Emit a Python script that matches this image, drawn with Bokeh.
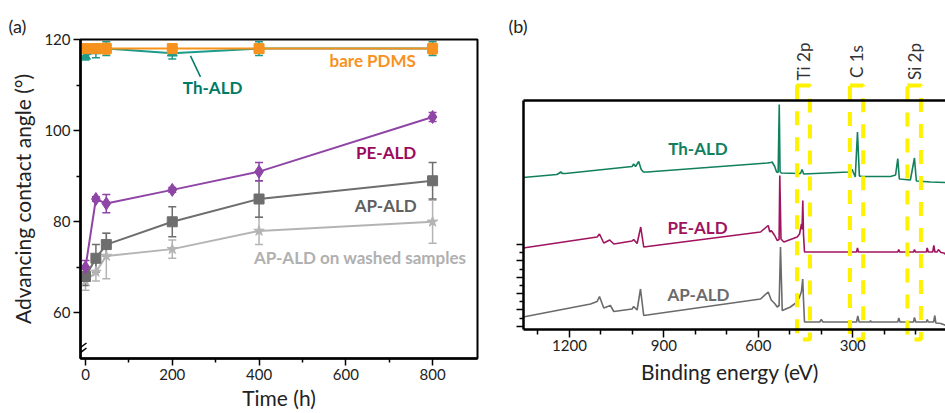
import math
from bokeh.plotting import figure
from bokeh.layouts import row
from bokeh.models import (Range1d, FixedTicker, Whisker, TeeHead, ColumnDataSource,
                          Label, LinearAxis, Arrow)
from bokeh.embed import file_html
from bokeh.resources import INLINE

FONT = "Lato"

# ---------------- panel (a) data: advancing contact angle vs time ----------------
time_h = [0, 24, 48, 200, 400, 800]
bare_pdms = [118, 118, 118, 118, 118, 118]
bare_pdms_err = [0.8, 1.0, 1.2, 1.0, 1.0, 1.2]
th_ald = [116.3, 117.5, 118, 117, 118, 118]
th_ald_err = [0.8, 1.5, 1.5, 1.3, 1.5, 1.5]
pe_ald = [70, 85, 84, 87, 91, 103]
pe_ald_err = [1.5, 0.5, 2, 0.5, 2, 1]
ap_ald = [68, 72, 75, 80, 85, 89]
ap_ald_err = [2, 3, 2.5, 3.3, 4, 4]
ap_washed = [67, 69, 72.5, 74, 78, 80]
ap_washed_err = [2, 2, 5, 2, 3, 4.7]

x_ticks_a = [0, 200, 400, 600, 800]
x_minor_a = [100, 300, 500, 700]
y_ticks_a = [60, 80, 100, 120]
y_minor_a = [70, 90, 110]

# ---------------- panel (b) data: XPS survey spectra (offset, a.u.) ----------------
th_be = [1347, 1240, 1232, 1228, 1222, 1213, 1001, 996, 990, 980, 972, 965, 953, 572, 560,
         556, 548, 542, 537, 533.5, 531, 527, 466, 461, 456, 313, 302, 292, 285, 279, 270,
         180, 164, 157, 152, 117, 104, 98, 53, 5]
th_int = [152, 155, 156.5, 157.5, 156, 156, 163, 165.5, 163, 168, 160, 157.5, 157.5, 166.5, 167,
          167.5, 163, 157.5, 157, 225, 158, 156.5, 156, 160, 155.5, 157.5, 160, 152.5, 197.5,
          153.5, 153, 153, 154.5, 171, 150.5, 149.5, 171.5, 148.5, 147.5, 147]

pe_be = [1347, 1112, 1104.5, 1091, 1072, 1059, 1001, 996, 985, 973.5, 964, 593, 568.5, 563.5,
         559, 548, 540, 534, 531.8, 528, 519, 476.5, 469, 463, 461, 458.7, 456.5, 453.3, 288,
         285, 282, 157, 154, 151, 107, 104, 101, 66, 63.5, 60, 46, 42.5, 39, 32, 28, 20, 10, 5]
pe_int = [81.5, 92.5, 95.5, 86.5, 89.5, 85.5, 88.5, 90, 86, 102.5, 82.5, 97.5, 104, 97.5,
          99, 94, 89, 90, 154, 90.5, 87.5, 92.5, 95.5, 105.5, 100, 129, 95, 77.5, 77.5,
          81.5, 77.5, 77.5, 80, 77.5, 77.5, 80, 77.5, 77.5, 81.5, 77.5, 77.5, 84, 77.5, 77.5,
          80, 77, 76.5, 75]

ap_be = [1347, 1133, 1112, 1104.5, 1091, 1070, 1059, 1001, 996, 985, 974.3, 964, 593, 568.6,
         559, 548, 540, 534, 529.5, 524, 498, 476.5, 469, 463, 459, 456.5, 453.3, 405, 400,
         395, 288, 284, 280, 246, 243.6, 241, 157, 153.7, 150, 107, 104, 100, 66, 63.5, 60,
         43, 39.4, 36, 20, 5]
ap_int = [12.5, 25.5, 28, 33, 21.5, 24, 18, 20.5, 23, 19.5, 40.5, 14, 30.5, 37.5,
          29.5, 26, 22.5, 24, 82.5, 19, 22.5, 27.5, 32.5, 38, 50.5, 30, 7.5, 7.5, 10,
          7.5, 7.5, 13.5, 7.5, 7.5, 8.7, 7.5, 7.5, 11.5, 7.5, 7.5, 12, 7.5, 7.5, 10, 7.5,
          7.5, 14, 6.5, 6, 4]

region_labels = ["Ti 2p", "C 1s", "Si 2p"]
region_high_be = [477, 309, 126.5]
region_low_be = [436, 267, 83.5]

x_ticks_b = [1200, 900, 600, 300]
x_minor_b = [1300, 1100, 1000, 800, 700, 500, 400, 200, 100]
y_ticks_b = [3.3, 19.7, 36, 52.3, 68.7, 85]
y_minor_b = [11.5, 27.8, 44.2, 60.5, 76.8]

# ---------------- colours ----------------
C_BARE = "#F7921E"
C_TH = "#1D9A8A"
C_TH_TXT = "#007A66"
C_PE = "#8E45A5"
C_PE_TXT = "#9C0A5E"
C_AP = "#6E6E6E"
C_AP_TXT = "#5F5F5F"
C_WASH = "#B4B4B4"
C_WASH_TXT = "#B0B0B0"

S_TH = "#12805E"
S_PE = "#A0145F"
S_AP = "#6B6B6B"
YELLOW = "#FFF200"
TXT = "#222222"

TOP, BOTTOM = 39, 55   # shared frame borders (px) of both panels

# =============================== panel (a) ===============================
pa = figure(width=497, height=413, x_range=Range1d(-11.5, 903.5), y_range=Range1d(50, 120),
            output_backend="svg", toolbar_location=None,
            min_border_left=80, min_border_right=20, min_border_top=TOP, min_border_bottom=BOTTOM)
pa.grid.visible = False
pa.outline_line_color = "black"
pa.outline_line_width = 2
pa.outline_line_alpha = 1

pa.title.text = "(a)"
pa.title.align = "left"
pa.title.offset = -72
pa.title.text_font = FONT
pa.title.text_font_size = "18px"
pa.title.text_font_style = "normal"
pa.title.text_color = TXT
pa.title.standoff = 6

pa.xaxis.ticker = FixedTicker(ticks=x_ticks_a, minor_ticks=x_minor_a)
pa.yaxis.ticker = FixedTicker(ticks=y_ticks_a, minor_ticks=y_minor_a)
pa.xaxis.axis_label = "Time (h)"
pa.yaxis.axis_label = "Advancing contact angle (°)"
for ax in (pa.xaxis, pa.yaxis):
    ax.axis_line_width = 2.5
    ax.axis_line_color = "black"
    ax.major_tick_line_width = 1.5
    ax.minor_tick_line_width = 1.5
    ax.major_tick_in = 0
    ax.major_tick_out = 7
    ax.minor_tick_in = 0
    ax.minor_tick_out = 4
    ax.major_label_text_font = FONT
    ax.major_label_text_font_size = "15px"
    ax.major_label_text_color = TXT
    ax.axis_label_text_font = FONT
    ax.axis_label_text_font_size = "21px"
    ax.axis_label_text_font_style = "normal"
    ax.axis_label_text_color = TXT
pa.xaxis.major_label_standoff = 3
pa.xaxis.axis_label_standoff = 2
pa.yaxis.major_label_standoff = 3
pa.yaxis.axis_label_standoff = 6

# axis-break marks at the foot of the angle axis
pa.segment(x0=[-25.4, -25.4], y0=[51.4, 50.3], x1=[2.3, 2.3], y1=[53.4, 52.3],
           line_color="black", line_width=1.5)


def add_series(p, y, err, color, marker, size):
    src = ColumnDataSource(dict(x=time_h, y=y,
                                upper=[a + b for a, b in zip(y, err)],
                                lower=[a - b for a, b in zip(y, err)]))
    p.add_layout(Whisker(source=src, base="x", upper="upper", lower="lower",
                         line_color=color, line_width=1.5,
                         upper_head=TeeHead(size=8, line_color=color, line_width=1.5),
                         lower_head=TeeHead(size=8, line_color=color, line_width=1.5)))
    p.line("x", "y", source=src, line_color=color, line_width=2)
    p.scatter("x", "y", source=src, marker=marker, size=size,
              fill_color=color, line_color=color)


add_series(pa, ap_washed, ap_washed_err, C_WASH, "star", 11)
add_series(pa, ap_ald, ap_ald_err, C_AP, "square", 10)
add_series(pa, pe_ald, pe_ald_err, C_PE, "diamond", 13)
add_series(pa, th_ald, th_ald_err, C_TH, "triangle", 10)
add_series(pa, bare_pdms, bare_pdms_err, C_BARE, "square", 10)

pa.add_layout(Arrow(end=None, x_start=242, y_start=116.4, x_end=265, y_end=111.8,
                    line_color=C_TH_TXT, line_width=1.5))


def lab(p, x, y, text, color, size="17px"):
    p.add_layout(Label(x=x, y=y, text=text, text_align="center", text_baseline="middle",
                       text_font=FONT, text_font_size=size, text_font_style="bold",
                       text_color=color))


lab(pa, 662, 115.4, "bare PDMS", C_BARE)
lab(pa, 293, 109.5, "Th-ALD", C_TH_TXT)
lab(pa, 693, 95.3, "PE-ALD", C_PE_TXT)
lab(pa, 692, 83.5, "AP-ALD", C_AP_TXT)
lab(pa, 633, 72.2, "AP-ALD on washed samples", C_WASH_TXT)

# =============================== panel (b) ===============================
BE_LEFT, BE_RIGHT = 1347, 5.4
pb = figure(width=448, height=413, x_range=Range1d(1374.5, BE_RIGHT), y_range=Range1d(-29, 290),
            y_axis_location=None, output_backend="svg", toolbar_location=None,
            min_border_left=17, min_border_right=0, min_border_top=TOP, min_border_bottom=BOTTOM)
pb.grid.visible = False
pb.outline_line_color = None

pb.title.text = "(b)"
pb.title.align = "left"
pb.title.offset = -6
pb.title.text_font = FONT
pb.title.text_font_size = "18px"
pb.title.text_font_style = "normal"
pb.title.text_color = TXT
pb.title.standoff = 6

# axis that only carries the axis title, right under the frame
xb = pb.xaxis[0]
xb.ticker = FixedTicker(ticks=[])
xb.axis_label = "Binding energy (eV)"
xb.axis_line_color = None
xb.major_tick_in = 0
xb.major_tick_out = 0
xb.minor_tick_in = 0
xb.minor_tick_out = 0
xb.major_label_standoff = 0
xb.axis_label_text_font = FONT
xb.axis_label_text_font_size = "21px"
xb.axis_label_text_font_style = "normal"
xb.axis_label_text_color = TXT
xb.axis_label_standoff = 0

# the real energy axis: bottom border of the spectrum box
xe = LinearAxis(fixed_location=0, bounds=(BE_RIGHT, BE_LEFT),
                ticker=FixedTicker(ticks=x_ticks_b, minor_ticks=x_minor_b),
                axis_line_width=2.5, axis_line_color="black",
                major_tick_in=0, major_tick_out=8, minor_tick_in=0, minor_tick_out=5,
                major_tick_line_width=1.5, minor_tick_line_width=1.5,
                major_label_text_font=FONT, major_label_text_font_size="15px",
                major_label_text_color=TXT, major_label_standoff=2)
pb.add_layout(xe, "below")


def border_axis(side, loc, bounds, ticks, tick_out, line):
    ax = LinearAxis(fixed_location=loc, bounds=bounds,
                    ticker=FixedTicker(ticks=[], minor_ticks=ticks),
                    axis_line_width=2.5, axis_line_color="black" if line else None,
                    major_tick_in=0, major_tick_out=0,
                    minor_tick_in=0, minor_tick_out=tick_out,
                    minor_tick_line_width=1.5, minor_tick_line_color="black",
                    major_label_standoff=0, axis_label_standoff=0)
    pb.add_layout(ax, side)


# top border, left border with its ticks
border_axis("above", 229, (BE_RIGHT, BE_LEFT), [], 0, True)
border_axis("left", BE_LEFT, (0, 229), y_ticks_b, 7, True)
border_axis("left", BE_LEFT, (0, 229), y_minor_b, 4, False)

pb.line(th_be, th_int, line_color=S_TH, line_width=1.6)
pb.line(pe_be, pe_int, line_color=S_PE, line_width=1.6)
pb.line(ap_be, ap_int, line_color=S_AP, line_width=1.6)

box_src = ColumnDataSource(dict(left=region_high_be, right=region_low_be,
                                xc=[(a + b) / 2 for a, b in zip(region_high_be, region_low_be)],
                                text=region_labels))
pb.quad(left="left", right="right", top=244, bottom=-10, source=box_src,
        fill_alpha=0, line_color=YELLOW, line_width=4, line_dash="14 12")
pb.text(x="xc", y=268, text="text", source=box_src, angle=math.pi / 2,
        text_align="center", text_baseline="middle", text_font_size="17px",
        text_color="#333333", text_font={"value": FONT})

lab(pb, 791.6, 180.7, "Th-ALD", S_TH)
lab(pb, 793.2, 102, "PE-ALD", S_PE)
lab(pb, 790, 35.3, "AP-ALD", S_AP)

layout = row(pa, pb)
open("out.html", "w").write(file_html(layout, INLINE))
